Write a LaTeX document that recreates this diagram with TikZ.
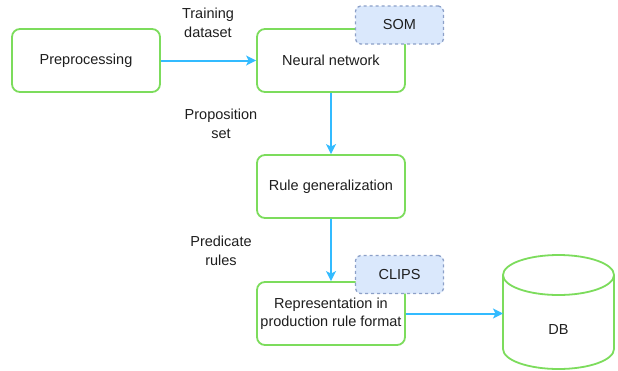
\documentclass[tikz,border=0pt]{standalone}
\usepackage{fontspec}
\setmainfont{Liberation Sans}
\usetikzlibrary{arrows.meta}
\definecolor{boxgreen}{RGB}{124,220,92}
\definecolor{flowblue}{RGB}{51,187,255}
\definecolor{toolfill}{RGB}{218,232,252}
\definecolor{tooledge}{RGB}{140,160,200}
\definecolor{ink}{RGB}{30,30,30}
\tikzset{
  stage/.style={draw=boxgreen, line width=1.8pt, fill=white, rounded corners=8pt,
    minimum width=148pt, minimum height=63pt, align=center, inner sep=1pt},
  tool/.style={draw=tooledge, dashed, line width=1.3pt, fill=toolfill, rounded corners=5pt,
    minimum width=88pt, minimum height=38pt},
  flow/.style={-{Stealth[length=10pt, width=10pt, inset=2.5pt]}, draw=flowblue, fill=flowblue, line width=2pt},
  edgetext/.style={align=center}
}
\begin{document}
\begin{tikzpicture}[x=1pt, y=-1pt, font=\fontsize{14.5}{18.5}\selectfont, text=ink]
    \useasboundingbox (0,0) rectangle (618,370);

    % processing stages
    \node[stage] (prep) at (86,60.5) {Preprocessing};
    \node[stage] (nn)   at (331,60.5) {Neural network};
    \node[stage] (gen)  at (331,186.5) {Rule generalization};
    \node[stage] (rep)  at (331,313.5) {Representation in\\production rule format};

    % tools sitting on the corners
    \node[tool] (som)   at (399.5,25) {SOM};
    \node[tool] (clips) at (399.5,274.5) {CLIPS};

    % database (y axis points down, so arcs run the other way)
    \draw[boxgreen, line width=1.8pt, fill=white]
      (503,275) -- (503,349) arc (180:0:55.5 and 20) -- (614,275)
      arc (0:-180:55.5 and 20) -- cycle;
    \draw[boxgreen, line width=1.8pt] (503,275) arc (180:0:55.5 and 20);
    \node (db) at (558.5,330) {DB};
    \coordinate (dbwest) at (503,313.5);

    \draw[flow] (prep) -- (nn);
    \draw[flow] (nn) -- (gen);
    \draw[flow] (gen) -- (rep);
    \draw[flow] (rep.east) -- (dbwest);

    \node[edgetext] (train) at (208,23) {Training\\dataset};
    \node[edgetext] (prop)  at (221,124) {Proposition\\set};
    \node[edgetext] (pred)  at (221,251) {Predicate\\rules};
  \end{tikzpicture}
\end{document}
